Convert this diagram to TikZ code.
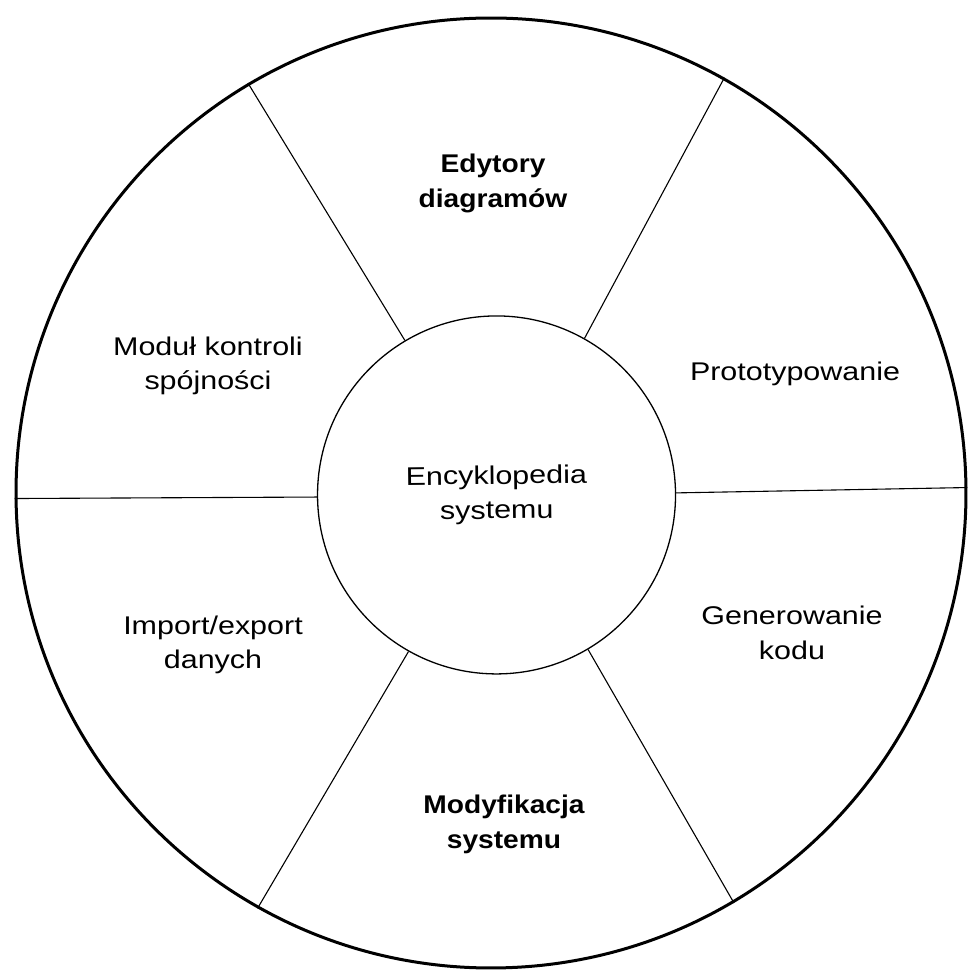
\documentclass[tikz,border=0pt]{standalone}
\usepackage{fontspec}
\setmainfont{Liberation Sans}[FakeStretch=1.19]
\newfontfamily\boldwide{Liberation Sans}[FakeStretch=1.1]

\tikzset{
  rimstyle/.style={circle, draw, line width=3pt, inner sep=0pt, minimum size=950pt},
  hubstyle/.style={circle, draw, line width=1.3pt, inner sep=0pt, minimum size=358pt,
                   align=center, font=\fontsize{25.6}{34.5}\selectfont},
  spoke/.style={line width=1.1pt},
  lab/.style={align=center, inner sep=0pt, font=\fontsize{25.6}{34.5}\selectfont},
  boldlab/.style={align=center, inner sep=0pt, font=\boldwide\bfseries\fontsize{25.6}{35}\selectfont},
}

\begin{document}
\begin{tikzpicture}[x=1pt, y=1pt]
  \fill[white] (0,0) rectangle (967,971);
  \useasboundingbox (0,0) rectangle (967,971);

  % wheel: rim, hub and six spokes
  \begin{scope}[rotate around={0.66:(491,478)}, transform shape]
    \node[rimstyle] (rim) at (491,478) {};
    \node[hubstyle] (hub) at (496.5,476) {Encyklopedia\\systemu};
    \foreach \a in {0,60,120,180,240,300}
      \draw[spoke] (hub.\a) -- (rim.\a);
  \end{scope}

  % sector labels
  \node[boldlab] (edit)  at (493,788) {Edytory\\diagramów};
  \node[lab]     (proto) at (795,597.6) {Prototypowanie};
  \node[lab]     (gen)   at (792,338) {Generowanie\\kodu};
  \node[boldlab] (mod)   at (504,147) {Modyfikacja\\systemu};
  \node[lab]     (imp)   at (213,326) {Import/export\\danych};
  \node[lab]     (ctrl)  at (208,605) {Moduł kontroli\\spójności};
\end{tikzpicture}
\end{document}
